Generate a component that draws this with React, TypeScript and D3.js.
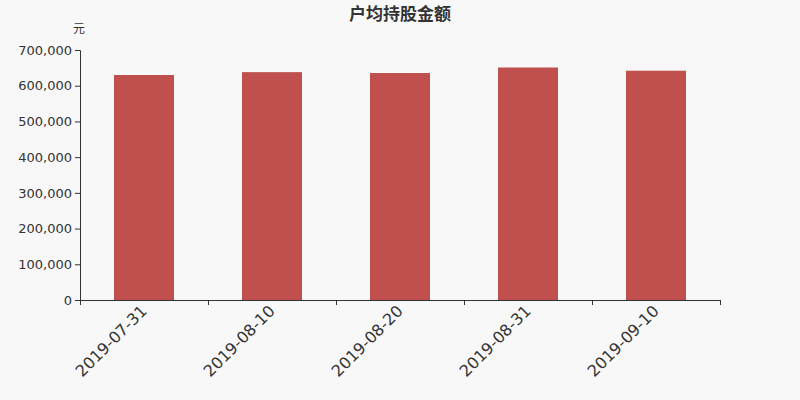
import React, { useRef, useEffect } from "react";
import * as d3 from "d3";

const dates = ["2019-07-31", "2019-08-10", "2019-08-20", "2019-08-31", "2019-09-10"];
const values = [630000, 638000, 635500, 651000, 642000];
const yTicks = [0, 100000, 200000, 300000, 400000, 500000, 600000, 700000];

const App = () => {
  const ref = useRef<SVGSVGElement>(null);
  const width = 800,
    height = 400,
    marginLeft = 80,
    marginRight = 80,
    marginTop = 50,
    marginBottom = 100;

  useEffect(() => {
    if (!ref.current) return;
    const svg = d3.select(ref.current);
    svg.selectAll("*").remove();
    svg.attr("width", width).attr("height", height).style("font-family", "'DejaVu Sans', sans-serif");

    svg.append("rect").attr("width", width).attr("height", height).attr("fill", "#f8f8f8");

    const x = d3
      .scaleBand()
      .domain(dates)
      .range([marginLeft, width - marginRight])
      .paddingInner(0.53125)
      .paddingOuter(0.265625);
    const y = d3
      .scaleLinear()
      .domain([0, 700000])
      .range([height - marginBottom, marginTop]);

    svg
      .append("g")
      .selectAll("rect")
      .data(values)
      .join("rect")
      .attr("x", (_, i) => x(dates[i])!)
      .attr("y", (d) => y(d))
      .attr("width", x.bandwidth())
      .attr("height", (d) => y(0) - y(d))
      .attr("fill", "#c0504d");

    const yAxis = svg
      .append("g")
      .attr("transform", `translate(${marginLeft},0)`)
      .call(
        d3
          .axisLeft(y)
          .tickValues(yTicks)
          .tickFormat((d) => d3.format(",")(d as number))
          .tickSizeOuter(0)
          .tickSize(5)
      )
      .attr("font-family", "'DejaVu Sans', sans-serif");
    yAxis.select("path").attr("stroke", "#333");
    yAxis.selectAll("line").attr("stroke", "#333");
    yAxis
      .selectAll("text")
      .attr("fill", "#333")
      .style("font-size", "13px")
      .attr("x", -8);

    const xTickScale = d3
      .scaleLinear()
      .domain([0, dates.length])
      .range([marginLeft, width - marginRight]);
    const xAxis = svg
      .append("g")
      .attr("transform", `translate(0,${height - marginBottom})`)
      .call(
        d3
          .axisBottom(xTickScale)
          .tickValues(d3.range(dates.length + 1))
          .tickFormat(() => "")
          .tickSizeOuter(0)
          .tickSize(5)
      );
    xAxis.select("path").attr("stroke", "#333");
    xAxis.selectAll("line").attr("stroke", "#333");

    svg
      .append("g")
      .selectAll("text")
      .data(dates)
      .join("text")
      .attr(
        "transform",
        (d) => `translate(${x(d)! + x.bandwidth() / 2 + 4},${height - marginBottom + 12}) rotate(-45)`
      )
      .attr("text-anchor", "end")
      .attr("fill", "#333")
      .style("font-size", "16px")
      .text((d) => d);

    svg
      .append("text")
      .attr("x", width / 2)
      .attr("y", 20)
      .attr("text-anchor", "middle")
      .attr("fill", "#333")
      .style("font-size", "17px")
      .style("font-weight", "bold")
      .style("font-family", "'Noto Sans CJK SC', sans-serif")
      .text("户均持股金额");

    svg
      .append("text")
      .attr("x", 79)
      .attr("y", 33)
      .attr("text-anchor", "middle")
      .attr("fill", "#333")
      .style("font-size", "12px")
      .style("font-family", "'Noto Sans CJK SC', sans-serif")
      .text("元");
  }, []);

  return (
    <div style={{ position: "absolute", left: 0, top: 0 }}>
      <svg ref={ref}></svg>
    </div>
  );
};

export default App;
